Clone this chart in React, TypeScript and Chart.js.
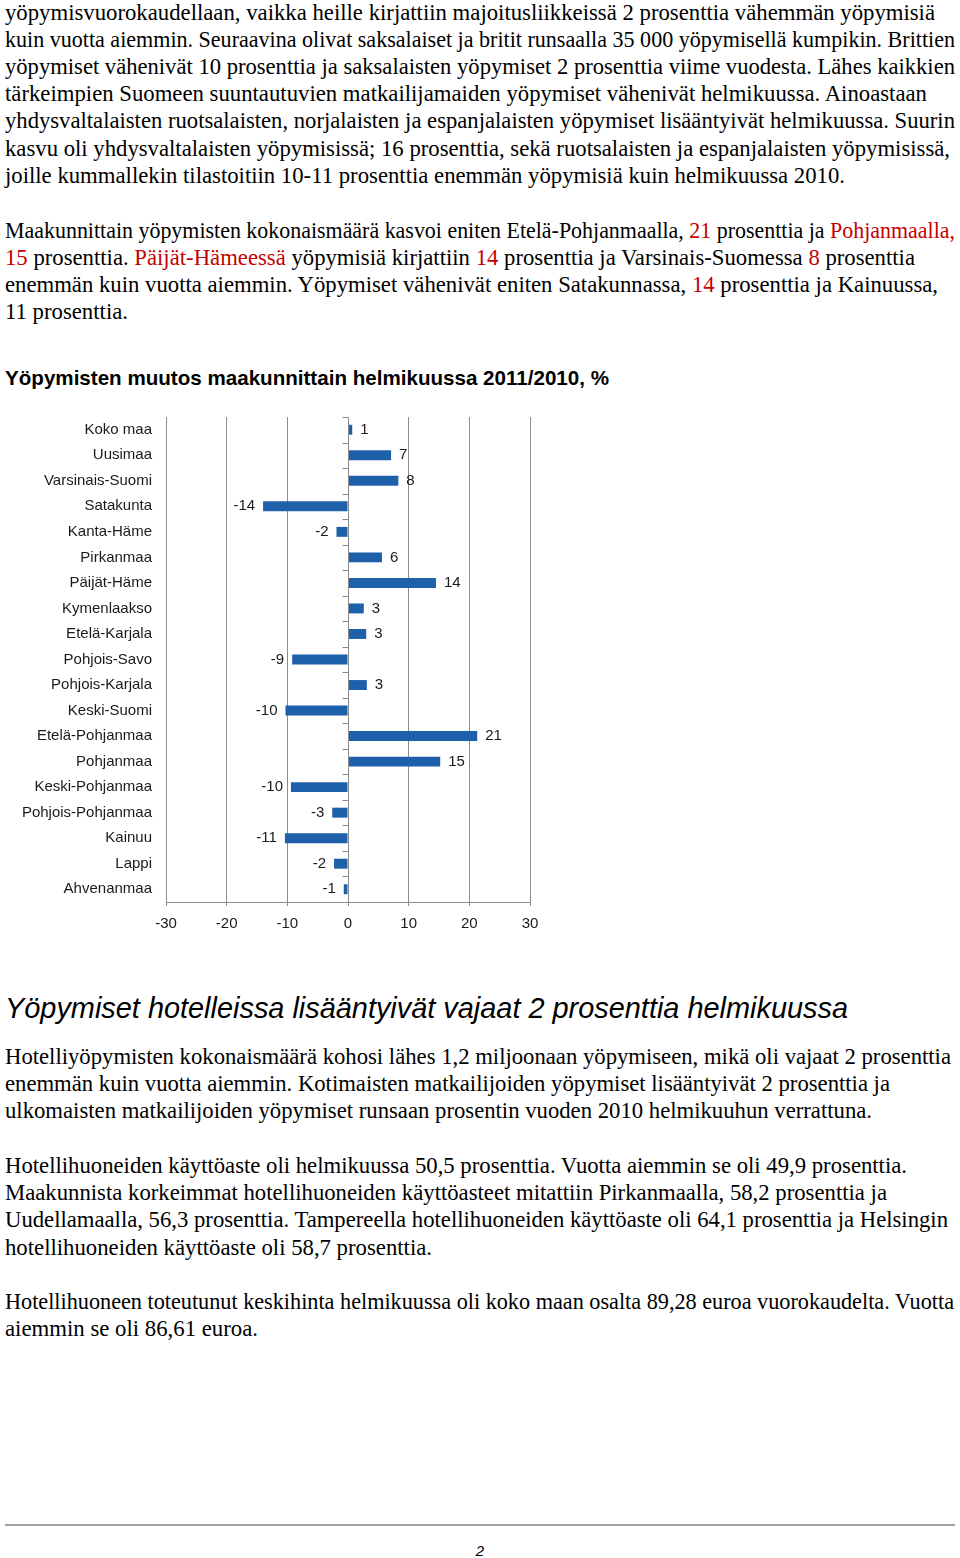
import React, { useEffect, useLayoutEffect, useRef } from "react";
import { Chart, registerables } from "chart.js";

Chart.register(...registerables);

// ---- Chart data ----
const categories = [
  "Koko maa",
  "Uusimaa",
  "Varsinais-Suomi",
  "Satakunta",
  "Kanta-Häme",
  "Pirkanmaa",
  "Päijät-Häme",
  "Kymenlaakso",
  "Etelä-Karjala",
  "Pohjois-Savo",
  "Pohjois-Karjala",
  "Keski-Suomi",
  "Etelä-Pohjanmaa",
  "Pohjanmaa",
  "Keski-Pohjanmaa",
  "Pohjois-Pohjanmaa",
  "Kainuu",
  "Lappi",
  "Ahvenanmaa",
];
const changeValues = [0.7, 7.1, 8.3, -14.0, -1.9, 5.6, 14.5, 2.6, 3.0, -9.2, 3.1, -10.3, 21.3, 15.2, -9.4, -2.6, -10.4, -2.3, -0.7];
const valueLabels = ["1", "7", "8", "-14", "-2", "6", "14", "3", "3", "-9", "3", "-10", "21", "15", "-10", "-3", "-11", "-2", "-1"];
const xMin = -30;
const xMax = 30;
const xStep = 10;

const BAR_COLOR = "#1f60ab";
const GRID_COLOR = "#8c8c8c";
const TEXT_COLOR = "#1a1a1a";
const RED = "#c40000";

type Seg = { t: string; red?: boolean };
type Line = { y: number; right: number; segs: Seg[] };

const s = (t: string): Seg => ({ t });
const r = (t: string): Seg => ({ t, red: true });

const bodyLines: Line[] = [
  { y: 12, right: 935, segs: [s("yöpymisvuorokaudellaan, vaikka heille kirjattiin majoitusliikkeissä 2 prosenttia vähemmän yöpymisiä")] },
  { y: 39, right: 955, segs: [s("kuin vuotta aiemmin. Seuraavina olivat saksalaiset ja britit runsaalla 35 000 yöpymisellä kumpikin. Brittien")] },
  { y: 66, right: 955, segs: [s("yöpymiset vähenivät 10 prosenttia ja saksalaisten yöpymiset 2 prosenttia viime vuodesta. Lähes kaikkien")] },
  { y: 93, right: 927, segs: [s("tärkeimpien Suomeen suuntautuvien matkailijamaiden yöpymiset vähenivät helmikuussa. Ainoastaan")] },
  { y: 120, right: 955, segs: [s("yhdysvaltalaisten ruotsalaisten, norjalaisten ja espanjalaisten yöpymiset lisääntyivät helmikuussa. Suurin")] },
  { y: 148, right: 950, segs: [s("kasvu oli yhdysvaltalaisten yöpymisissä; 16 prosenttia, sekä ruotsalaisten ja espanjalaisten yöpymisissä,")] },
  { y: 175, right: 845, segs: [s("joille kummallekin tilastoitiin 10-11 prosenttia enemmän yöpymisiä kuin helmikuussa 2010.")] },

  { y: 230, right: 955, segs: [s("Maakunnittain yöpymisten kokonaismäärä kasvoi eniten Etelä-Pohjanmaalla, "), r("21"), s(" prosenttia ja "), r("Pohjanmaalla,")] },
  { y: 257, right: 915, segs: [r("15"), s(" prosenttia. "), r("Päijät-Hämeessä"), s(" yöpymisiä kirjattiin "), r("14"), s(" prosenttia ja Varsinais-Suomessa "), r("8"), s(" prosenttia")] },
  { y: 284, right: 938, segs: [s("enemmän kuin vuotta aiemmin. Yöpymiset vähenivät eniten Satakunnassa, "), r("14"), s(" prosenttia ja Kainuussa,")] },
  { y: 311, right: 128, segs: [s("11 prosenttia.")] },

  { y: 1056, right: 951, segs: [s("Hotelliyöpymisten kokonaismäärä kohosi lähes 1,2 miljoonaan yöpymiseen, mikä oli vajaat 2 prosenttia")] },
  { y: 1083, right: 890, segs: [s("enemmän kuin vuotta aiemmin. Kotimaisten matkailijoiden yöpymiset lisääntyivät 2 prosenttia ja")] },
  { y: 1110, right: 872, segs: [s("ulkomaisten matkailijoiden yöpymiset runsaan prosentin vuoden 2010 helmikuuhun verrattuna.")] },

  { y: 1165, right: 907, segs: [s("Hotellihuoneiden käyttöaste oli helmikuussa 50,5 prosenttia. Vuotta aiemmin se oli 49,9 prosenttia.")] },
  { y: 1192, right: 887, segs: [s("Maakunnista korkeimmat hotellihuoneiden käyttöasteet mitattiin Pirkanmaalla, 58,2 prosenttia ja")] },
  { y: 1219, right: 948, segs: [s("Uudellamaalla, 56,3 prosenttia. Tampereella hotellihuoneiden käyttöaste oli 64,1 prosenttia ja Helsingin")] },
  { y: 1247, right: 432, segs: [s("hotellihuoneiden käyttöaste oli 58,7 prosenttia.")] },

  { y: 1301, right: 954, segs: [s("Hotellihuoneen toteutunut keskihinta helmikuussa oli koko maan osalta 89,28 euroa vuorokaudelta. Vuotta")] },
  { y: 1328, right: 258, segs: [s("aiemmin se oli 86,61 euroa.")] },
];

const SERIF = '"Liberation Serif", "Times New Roman", serif';
const SANS = '"Liberation Sans", Arial, sans-serif';

function FitText(props: {
  left: number;
  right: number;
  cy: number;
  lh: number;
  style: React.CSSProperties;
  children: React.ReactNode;
}) {
  const ref = useRef<HTMLDivElement | null>(null);
  useLayoutEffect(() => {
    const el = ref.current;
    if (!el) return;
    el.style.transform = "none";
    const w = el.getBoundingClientRect().width;
    if (w > 0) {
      el.style.transform = `scaleX(${(props.right - props.left) / w})`;
    }
  }, [props.left, props.right]);
  return (
    <div
      ref={ref}
      style={{
        position: "absolute",
        left: props.left,
        top: props.cy - props.lh / 2,
        height: props.lh,
        lineHeight: `${props.lh}px`,
        whiteSpace: "pre",
        transformOrigin: "0 50%",
        ...props.style,
      }}
    >
      {props.children}
    </div>
  );
}

function BarChart() {
  const ref = useRef<HTMLCanvasElement | null>(null);
  useEffect(() => {
    if (!ref.current) return;
    const zeroAxis = {
      id: "zeroAxis",
      afterDatasetsDraw(chart: any) {
        const { ctx, chartArea } = chart;
        const xs = chart.scales.x;
        const ys = chart.scales.y;
        const x0 = Math.round(xs.getPixelForValue(0)) + 0.5;
        ctx.save();
        ctx.strokeStyle = GRID_COLOR;
        ctx.lineWidth = 1;
        ctx.beginPath();
        ctx.moveTo(x0, chartArea.top);
        ctx.lineTo(x0, chartArea.bottom);
        const n = categories.length;
        for (let i = 0; i <= n; i++) {
          let yb: number;
          if (i === 0) yb = chartArea.top;
          else if (i === n) yb = chartArea.bottom;
          else yb = (ys.getPixelForValue(i - 1) + ys.getPixelForValue(i)) / 2;
          const yy = Math.round(yb) + 0.5;
          ctx.moveTo(x0 - 6, yy);
          ctx.lineTo(x0, yy);
        }
        ctx.stroke();
        ctx.restore();
      },
    };
    const valueText = {
      id: "valueText",
      afterDatasetsDraw(chart: any) {
        const { ctx } = chart;
        const meta = chart.getDatasetMeta(0);
        ctx.save();
        ctx.font = `15px ${SANS}`;
        ctx.fillStyle = TEXT_COLOR;
        ctx.textBaseline = "middle";
        meta.data.forEach((el: any, i: number) => {
          const v = changeValues[i];
          if (v >= 0) {
            ctx.textAlign = "left";
            ctx.fillText(valueLabels[i], el.x + 8, el.y);
          } else {
            ctx.textAlign = "right";
            ctx.fillText(valueLabels[i], el.x - 8, el.y);
          }
        });
        ctx.restore();
      },
    };
    const chart = new Chart(ref.current, {
      type: "bar",
      data: {
        labels: categories,
        datasets: [
          {
            data: changeValues,
            backgroundColor: BAR_COLOR,
            borderWidth: 0,
            barPercentage: 0.39,
            categoryPercentage: 1,
          },
        ],
      },
      options: {
        indexAxis: "y",
        animation: false,
        responsive: false,
        devicePixelRatio: 1,
        layout: { padding: { left: 0, right: 30, top: 17, bottom: 0 } },
        plugins: {
          legend: { display: false },
          tooltip: { enabled: false },
          title: { display: false },
        },
        scales: {
          x: {
            type: "linear",
            min: xMin,
            max: xMax,
            ticks: {
              stepSize: xStep,
              color: TEXT_COLOR,
              font: { family: SANS, size: 15 },
              padding: 9,
            },
            grid: { color: GRID_COLOR, lineWidth: 1, drawTicks: true, tickLength: 4 },
            border: { display: true, color: GRID_COLOR, width: 1 },
            afterFit: (sc: any) => {
              sc.height = 43;
              sc.paddingLeft = 0;
              sc.paddingRight = 0;
            },
          },
          y: {
            type: "category",
            grid: { display: false, drawTicks: false },
            border: { display: false },
            ticks: {
              color: TEXT_COLOR,
              font: { family: SANS, size: 15 },
              padding: 14,
              autoSkip: false,
            },
            afterFit: (sc: any) => {
              sc.width = 166;
              sc.paddingTop = 0;
              sc.paddingBottom = 0;
            },
          },
        },
      },
      plugins: [zeroAxis, valueText],
    } as any);
    return () => chart.destroy();
  }, []);
  return (
    <canvas
      ref={ref}
      width={560}
      height={545}
      style={{ position: "absolute", left: 0, top: 400, width: 560, height: 545 }}
    />
  );
}

export default function App() {
  return (
    <div
      style={{
        position: "absolute",
        left: 0,
        top: 0,
        width: 960,
        height: 1558,
        background: "#fff",
        overflow: "hidden",
      }}
    >
      {bodyLines.map((ln, i) => (
        <FitText
          key={i}
          left={5}
          right={ln.right}
          cy={ln.y}
          lh={27}
          style={{ fontFamily: SERIF, fontSize: 22.7, color: "#000" }}
        >
          {ln.segs.map((sg, j) => (
            <span key={j} style={sg.red ? { color: RED } : undefined}>
              {sg.t}
            </span>
          ))}
        </FitText>
      ))}

      <FitText
        left={5}
        right={609}
        cy={378}
        lh={26}
        style={{ fontFamily: SANS, fontWeight: "bold", fontSize: 20.5, color: "#000" }}
      >
        Yöpymisten muutos maakunnittain helmikuussa 2011/2010, %
      </FitText>

      <BarChart />

      <FitText
        left={5}
        right={848}
        cy={1008}
        lh={36}
        style={{ fontFamily: SANS, fontStyle: "italic", fontSize: 28.9, color: "#000" }}
      >
        Yöpymiset hotelleissa lisääntyivät vajaat 2 prosenttia helmikuussa
      </FitText>

      <div
        style={{
          position: "absolute",
          left: 5,
          top: 1524,
          width: 950,
          height: 2,
          background: "#a0a0a0",
        }}
      />
      <div
        style={{
          position: "absolute",
          left: 460,
          width: 40,
          top: 1551 - 10,
          lineHeight: "20px",
          textAlign: "center",
          fontFamily: SANS,
          fontStyle: "italic",
          fontSize: 15,
          color: "#000",
        }}
      >
        2
      </div>
    </div>
  );
}
